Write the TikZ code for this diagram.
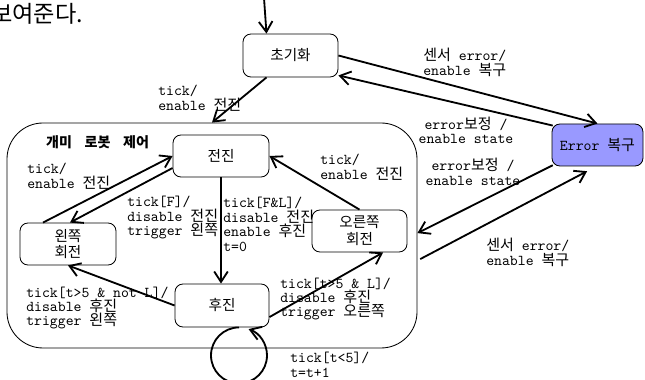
\documentclass[tikz,border=0pt]{standalone}
\usepackage{fontspec}
\newfontfamily\kr{Noto Sans CJK KR}
\usepackage{tikz}
\usetikzlibrary{arrows.meta, positioning}
\definecolor{errblue}{RGB}{153, 153, 255}
\newcommand\lblfont{\fontsize{10.7}{10.3}\selectfont\ttfamily\lineskiplimit=-10pt}
\tikzset{
  state/.style={rectangle, draw, semithick, rounded corners=0.2cm, minimum width=2.4cm, minimum height=1.05cm, align=center, font=\kr\fontsize{10.4}{12}\selectfont},
  trans/.style={->, line width=1.3pt},
  lbl/.style={inner sep=0pt, font=\lblfont},
  >={Straight Barb[length=2.6mm, width=3.4mm]}
}

\begin{document}
\begin{tikzpicture}
    \useasboundingbox (0,0) rectangle (16.125,9.5);
    % cut-off caption of the page
    \node (cap) [anchor=base west, inner sep=0pt, font=\kr\fontsize{16.5}{18}\selectfont] at (-0.225, 8.925) {보여준다.};

    % Superstate
    \node (ctl) [rectangle, draw, semithick, rounded corners=0.9cm, minimum width=10.25cm, minimum height=5.625cm] at (5.3, 3.6125) {};
    \node (ttl) [font=\kr\bfseries\fontsize{10}{12}\selectfont] at (2.44, 5.95) {개미\hspace{0.9em}로봇\hspace{0.9em}제어};

    % States
    \node (ini) [state, minimum width=2.375cm, minimum height=1.075cm] at (7.2625, 8.1125) {초기화};
    \node (fw) [state] at (5.525, 5.6) {전진};
    \node (lt) [state] at (1.7, 3.4) {왼쪽\\회전};
    \node (rt) [state, minimum width=2.375cm] at (8.9875, 3.725) {오른쪽\\회전};
    \node (bk) [state, minimum width=2.35cm, minimum height=1.075cm] at (5.55, 1.8625) {후진};
    \node (er) [state, fill=errblue, minimum width=2.275cm] at (14.9375, 5.875) {\lblfont Error {\kr 복구}};

    % Initial arrow
    \coordinate (start) at (6.6, 9.55);
    \draw[trans] (start) -- ([xshift=-0.6cm]ini.north);

    % Transitions outside the superstate
    \draw[trans] ([xshift=-0.6cm]ini.south) -- (ctl.north);
    \node (l1) [lbl, anchor=west, align=left] at (3.95, 7.04) {tick/\\enable {\kr 전진}};
    \draw[trans] (ini.east) -- (er.north);
    \node (l2) [lbl, anchor=west, align=left] at (10.575, 7.94) {{\kr 센서} error/\\enable {\kr 복구}};
    \draw[trans] ([xshift=0.03cm, yshift=-0.05cm]er.north west) -- ([yshift=0.05cm]ini.south east);
    \node (l3) [lbl, align=center] at (11.65, 6.24) {error{\kr 보정} /\\enable state};
    \draw[trans] ([xshift=0.03cm, yshift=0.03cm]er.south west) -- ([yshift=0.06cm]ctl.east);
    \node (l4) [lbl, align=center] at (11.825, 5.2) {error{\kr 보정} /\\enable state};
    \draw[trans] ([xshift=0.07cm, yshift=-0.59cm]ctl.east) -- ([xshift=-0.26cm, yshift=-0.12cm]er.south);
    \node (l5) [lbl, anchor=west, align=left] at (12.15, 3.19) {{\kr 센서} error/\\enable {\kr 복구}};

    % Transitions inside the superstate
    \draw[trans] ([xshift=-0.625cm]lt.north) -- (fw.west);
    \node (l6) [lbl, anchor=west, align=left] at (0.675, 5.1) {tick/\\enable {\kr 전진}};
    \draw[trans] ([yshift=-0.3cm]fw.west) -- ([xshift=0.05cm]lt.north);
    \node (l7) [lbl, anchor=west, align=left] at (3.175, 4.06) {tick[F]/\\disable {\kr 전진}\\trigger {\kr 왼쪽}};
    \draw[trans] (fw.south) -- (fw.south |- bk.north);
    \node (l8) [lbl, anchor=west, align=left] at (5.575, 3.89) {tick[F\&L]/\\disable {\kr 전진}\\enable {\kr 후진}\\t=0};
    \draw[trans] (rt.north) -- (fw.east);
    \node (l9) [lbl, anchor=west, align=left] at (8.0, 5.325) {tick/\\enable {\kr 전진}};
    \draw[trans] ([yshift=-0.29cm]bk.east) -- ([xshift=0.59cm]rt.south);
    \node (l10) [lbl, anchor=west, align=left] at (7.0, 2.025) {tick[t>5 \& L]/\\disable {\kr 후진}\\trigger {\kr 오른쪽}};
    \draw[trans] (bk.west) -- (lt.south);
    \node (l11) [lbl, anchor=west, align=left] at (0.65, 1.8) {tick[t>5 \& not L]/\\disable {\kr 후진}\\trigger {\kr 왼쪽}};

    % Self loop
    \draw[trans] ([xshift=0.425cm]bk.south) arc[start angle=90, end angle=430, radius=0.7cm];
    \node (l12) [lbl, anchor=north west, align=left] at (7.25, 0.7) {tick[t<5]/\\t=t+1};
\end{tikzpicture}
\end{document}
